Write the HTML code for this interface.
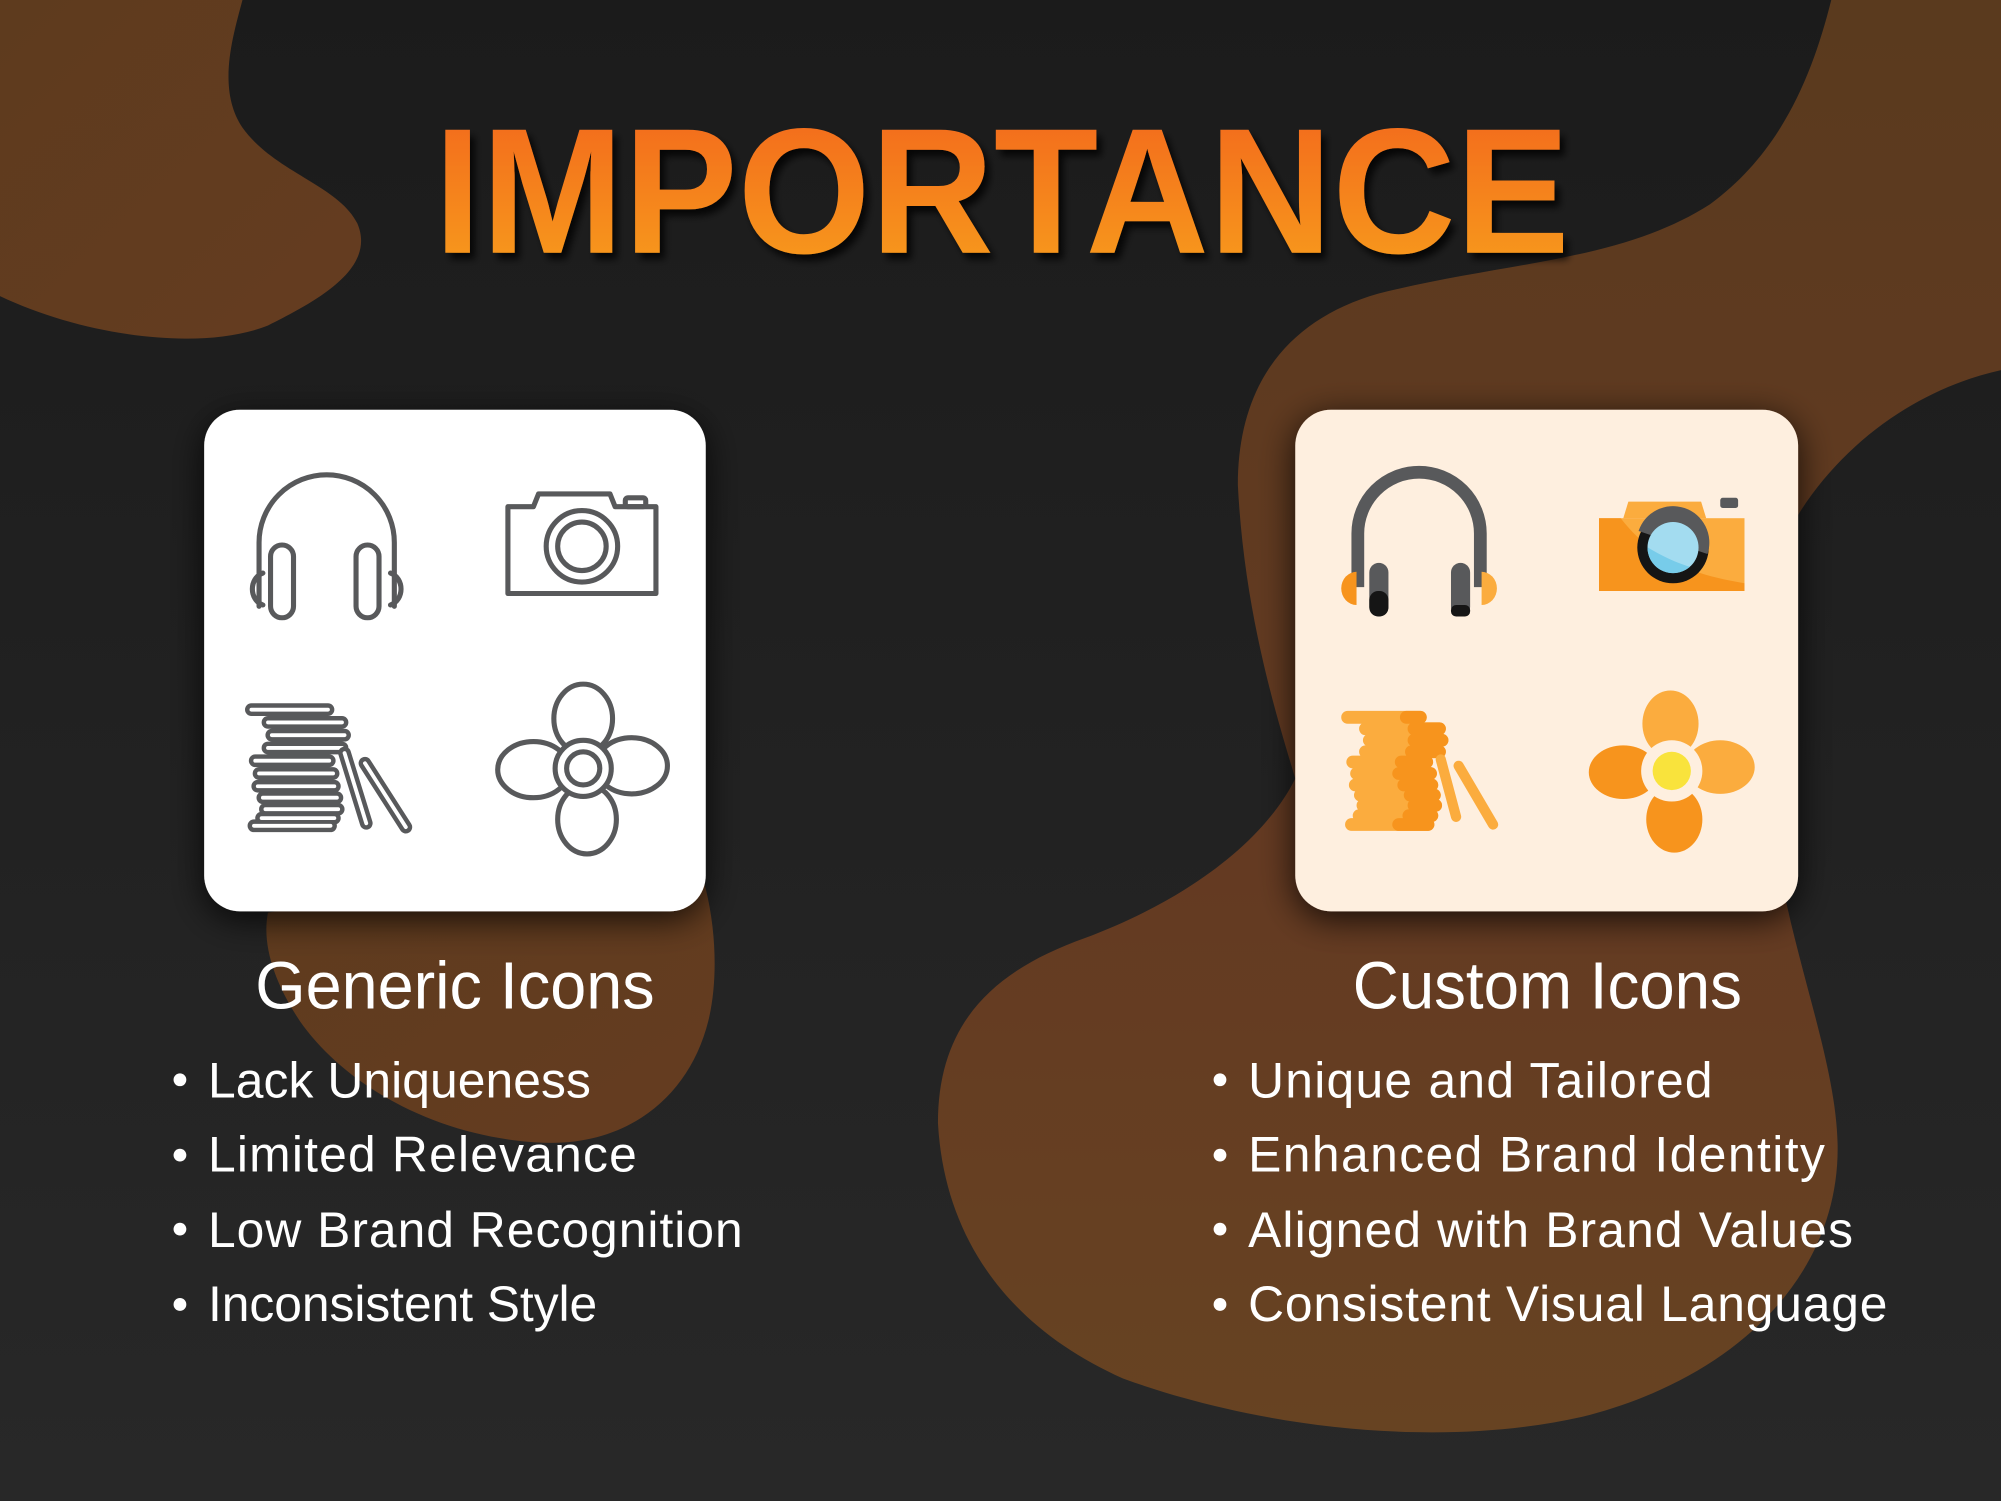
<!DOCTYPE html>
<html><head><meta charset="utf-8"><style>
html,body{margin:0;padding:0;background:#202020}
svg{display:block}
</style></head><body>
<svg width="2001" height="1501" viewBox="0 0 1568 1176" preserveAspectRatio="none" xmlns="http://www.w3.org/2000/svg">
<defs>
<linearGradient id="bg" x1="0" y1="0" x2="0" y2="1"><stop offset="0" stop-color="#1b1b1b"/><stop offset="1" stop-color="#282828"/></linearGradient>
<linearGradient id="blob" x1="0" y1="0" x2="1" y2="1"><stop offset="0" stop-color="#5e3b1e"/><stop offset="1" stop-color="#653c20"/></linearGradient>
<linearGradient id="blob2" x1="0" y1="0" x2="0" y2="1"><stop offset="0" stop-color="#5a3a1e"/><stop offset="0.6" stop-color="#643a22"/><stop offset="1" stop-color="#674322"/></linearGradient>
<linearGradient id="tg" x1="0" y1="0" x2="0" y2="1"><stop offset="0" stop-color="#f2641f"/><stop offset="1" stop-color="#f8a01c"/></linearGradient>
<clipPath id="lens"><circle cx="1311" cy="429" r="20"/></clipPath>
<filter id="sh" x="-30%" y="-30%" width="160%" height="160%"><feGaussianBlur in="SourceAlpha" stdDeviation="14"/><feOffset dx="0" dy="6"/><feComponentTransfer><feFuncA type="linear" slope="0.8"/></feComponentTransfer><feMerge><feMergeNode/><feMergeNode in="SourceGraphic"/></feMerge></filter>
<filter id="tsh" x="-10%" y="-20%" width="120%" height="150%"><feGaussianBlur in="SourceAlpha" stdDeviation="3"/><feOffset dx="4" dy="5"/><feComponentTransfer><feFuncA type="linear" slope="0.8"/></feComponentTransfer><feMerge><feMergeNode/><feMergeNode in="SourceGraphic"/></feMerge></filter>
</defs>
<rect width="1568" height="1176" fill="url(#bg)"/>
<path d="M0,0 L190,0 C182,30 170,70 190,100 C215,135 265,145 280,175 C295,210 250,235 210,255 C160,275 70,265 0,232 Z" fill="url(#blob)"/>
<path d="M1435,0 L1568,0 L1568,290 C1500,305 1440,350 1405,410 C1380,470 1380,560 1390,650 C1400,740 1440,830 1440,900 C1440,1000 1360,1080 1240,1110 C1130,1135 990,1120 880,1080 C790,1040 740,970 735,880 C735,800 780,760 850,735 C930,705 990,660 1015,610 C1000,560 975,480 970,380 C970,300 1010,250 1080,230 C1180,205 1270,205 1340,160 C1395,120 1420,60 1435,0 Z" fill="url(#blob2)"/>
<path d="M210,715 C300,700 460,690 540,660 C560,700 565,760 555,800 C540,860 490,900 420,895 C340,890 270,850 235,800 C215,770 205,740 210,715 Z" fill="url(#blob)"/>
<text x="340" y="198" textLength="890" lengthAdjust="spacingAndGlyphs" font-family="Liberation Sans, sans-serif" font-weight="bold" font-size="140" fill="url(#tg)" filter="url(#tsh)">IMPORTANCE</text>
<rect x="160" y="321" width="393" height="393" rx="28" fill="#ffffff" filter="url(#sh)"/>
<rect x="1015" y="321" width="394" height="393" rx="28" fill="#feefdf" filter="url(#sh)"/>
<g fill="none" stroke="#58595b" stroke-width="4" stroke-linecap="round" stroke-linejoin="round">
<path d="M203,475 L203,425 A53,53 0 0 1 309,425 L309,475"/>
<rect x="212" y="427" width="18" height="57" rx="9"/>
<rect x="279" y="427" width="18" height="57" rx="9"/>
<path d="M206,449 C195,453 195,470 206,474"/>
<path d="M306,449 C317,453 317,470 306,474"/>
<path d="M398,397 L418,397 L422,387 L478,387 L482,397 L514,397 L514,465 L398,465 Z"/>
<rect x="490" y="390" width="16" height="7" rx="2"/>
<circle cx="456" cy="428" r="28"/><circle cx="456" cy="428" r="19"/>
<path d="M197,556 L257,556 M210,566 L268,566 M213,576 L270,576 M210,586 L268,586 M200,596 L258,596 M203,606 L261,606 M202,616 L262,616 M206,625 L264,625 M208,634 L265,634 M205,641 L262,641 M199,647 L259,647" stroke-width="10"/>
<path d="M197,556 L257,556 M210,566 L268,566 M213,576 L270,576 M210,586 L268,586 M200,596 L258,596 M203,606 L261,606 M202,616 L262,616 M206,625 L264,625 M208,634 L265,634 M205,641 L262,641 M199,647 L259,647" stroke="#fff" stroke-width="3"/>
<path d="M270,590 L287,645" stroke-width="10"/><path d="M270,590 L287,645" stroke="#fff" stroke-width="3"/>
<path d="M286,598 L318,648" stroke-width="10"/><path d="M286,598 L318,648" stroke="#fff" stroke-width="3"/>
<ellipse cx="457" cy="563" rx="23" ry="27"/><ellipse cx="460" cy="642" rx="23" ry="27"/>
<ellipse cx="418" cy="603" rx="28" ry="22"/><ellipse cx="495" cy="600" rx="28" ry="22"/>
<circle cx="457" cy="602" r="22" fill="#fff"/><circle cx="457" cy="602" r="13"/>
</g>
<g>
<path d="M1064,460 L1064,418 A48,48 0 0 1 1160,418 L1160,460" fill="none" stroke="#58595b" stroke-width="10"/>
<path d="M1063,448 A12,13 0 0 0 1063,474 Z" fill="#f7941d"/>
<path d="M1161,448 A12,13 0 0 1 1161,474 Z" fill="#fbac3e"/>
<rect x="1073" y="441" width="15" height="42" rx="7.5" fill="#58595b"/>
<rect x="1073" y="463" width="15" height="20" rx="7" fill="#151515"/>
<rect x="1137" y="441" width="15" height="42" rx="7.5" fill="#58595b"/>
<rect x="1137" y="474" width="15" height="9" rx="4" fill="#151515"/>
<rect x="1253" y="406" width="114" height="57" fill="#fbac3e"/>
<path d="M1253,406 L1270,406 C1300,445 1340,452 1367,457 L1367,463 L1253,463 Z" fill="#f7941d"/>
<path d="M1272,406 L1276,393 L1333,393 L1337,406 Z" fill="#fbac3e"/>
<rect x="1348" y="390" width="14" height="8" rx="2" fill="#58595b"/>
<circle cx="1311" cy="429" r="28" fill="#151515"/>
<path d="M1284,416 A28,28 0 0 1 1338,434 Z" fill="#58595b"/>
<circle cx="1311" cy="429" r="20" fill="#a3dcf0"/>
<path d="M1285,425 C1305,438 1320,444 1340,448 L1340,460 L1285,460 Z" fill="#77ccea" clip-path="url(#lens)"/>
<g stroke-linecap="round" stroke-width="10" stroke="#fbac3e">
<path d="M1056,562 L1113,562 M1070,571 L1128,571 M1073,580 L1130,580 M1070,589 L1128,589 M1060,597 L1118,597 M1063,606 L1121,606 M1062,615 L1122,615 M1066,623 L1124,623 M1068,631 L1125,631 M1065,639 L1122,639 M1059,646 L1119,646"/>
<path d="M1102,562 L1113,562 M1108,571 L1128,571 M1108,580 L1130,580 M1106,589 L1128,589 M1098,597 L1118,597 M1096,606 L1121,606 M1100,615 L1122,615 M1105,623 L1124,623 M1108,631 L1125,631 M1104,639 L1122,639 M1096,646 L1119,646" stroke="#f7941d"/>
<path d="M1129,595 L1141,640" stroke-width="8"/>
<path d="M1143,600 L1170,646" stroke-width="8"/>
</g>
<ellipse cx="1309" cy="567" rx="22" ry="26" fill="#fbac3e"/>
<ellipse cx="1312" cy="642" rx="22" ry="26" fill="#f7941d"/>
<ellipse cx="1272" cy="605" rx="27" ry="21" fill="#f7941d"/>
<ellipse cx="1348" cy="601" rx="27" ry="21" fill="#fbac3e"/>
<circle cx="1310" cy="604" r="24" fill="#feefdf"/>
<circle cx="1310" cy="604" r="15" fill="#f9e33c"/>
</g>
<g font-family="Liberation Sans, sans-serif" fill="#ffffff">
<text x="200" y="790" font-size="52" textLength="313" lengthAdjust="spacingAndGlyphs">Generic Icons</text>
<text x="1060" y="790" font-size="52" textLength="305" lengthAdjust="spacingAndGlyphs">Custom Icons</text>
<g font-size="39" lengthAdjust="spacingAndGlyphs">
<text x="163" y="860" textLength="300">Lack Uniqueness</text>
<text x="163" y="918" textLength="336">Limited Relevance</text>
<text x="163" y="977" textLength="419">Low Brand Recognition</text>
<text x="163" y="1035" textLength="305">Inconsistent Style</text>
<text x="978" y="860" textLength="364">Unique and Tailored</text>
<text x="978" y="918" textLength="452">Enhanced Brand Identity</text>
<text x="978" y="977" textLength="474">Aligned with Brand Values</text>
<text x="978" y="1035" textLength="501">Consistent Visual Language</text>
</g>
<circle cx="141" cy="846" r="5"/><circle cx="141" cy="905" r="5"/><circle cx="141" cy="963" r="5"/><circle cx="141" cy="1022" r="5"/>
<circle cx="956" cy="846" r="5"/><circle cx="956" cy="905" r="5"/><circle cx="956" cy="963" r="5"/><circle cx="956" cy="1022" r="5"/>
</g>
</svg>
</body></html>
